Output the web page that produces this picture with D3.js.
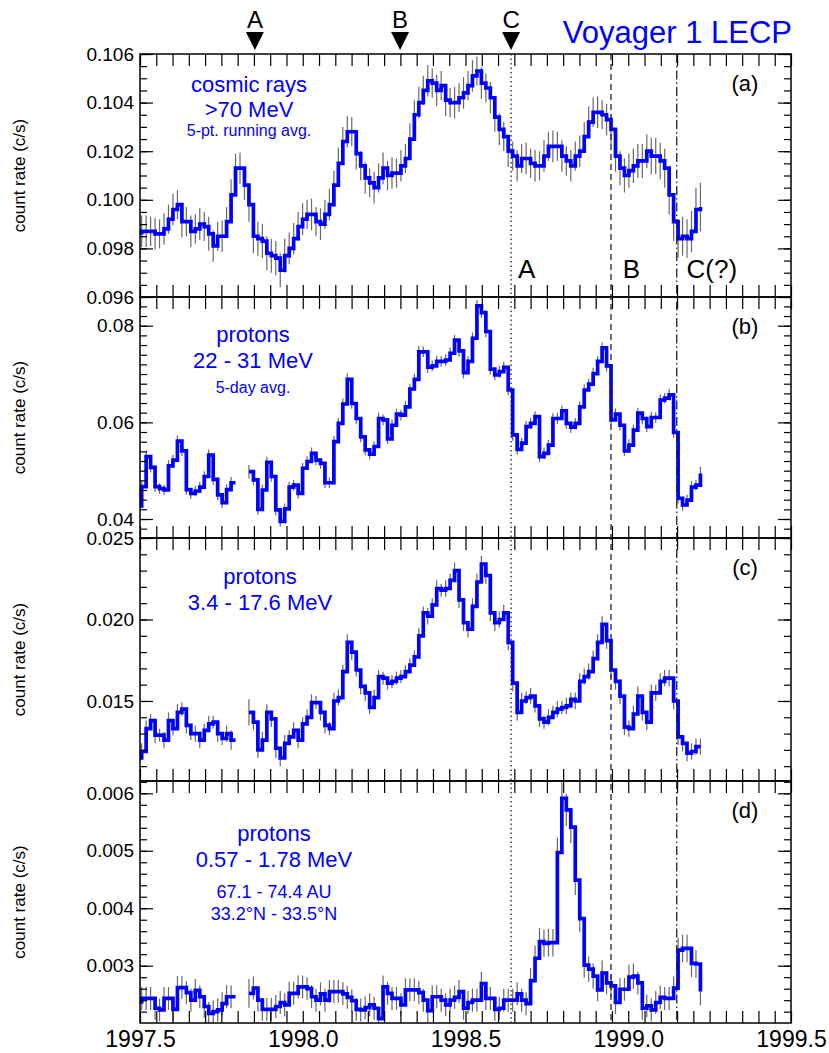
<!DOCTYPE html>
<html>
<head>
<meta charset="utf-8">
<script src="https://cdn.jsdelivr.net/npm/d3@7"></script>
<style>
  body { margin: 0; background: #fff; }
  svg text { font-family: "Liberation Sans", Arial, Helvetica, sans-serif; }
</style>
</head>
<body>
<svg id="chart" width="829" height="1053"></svg>
<script>
// 5-day bins, first one starts just before 1997.5
const startYear = 1997.4914;
const binWidth = 0.013733;

// (a) cosmic rays >70 MeV, 5-pt running avg
const cosmicRays = [
  0.09865, 0.0987, 0.0987, 0.0987, 0.0986, 0.0986, 0.0988, 0.0992, 0.0996, 0.0998,
  0.0991, 0.0991, 0.0987, 0.0988, 0.0990, 0.0989, 0.0986, 0.0981, 0.0985, 0.0985,
  0.0991, 0.1002, 0.1013, 0.1013, 0.1006, 0.0998, 0.0985, 0.0984, 0.0983, 0.0978,
  0.0977, 0.0976, 0.0971, 0.0977, 0.0980, 0.0984, 0.0989, 0.0992, 0.0994, 0.0994,
  0.0991, 0.0990, 0.0994, 0.0998, 0.1006, 0.1015, 0.1024, 0.1028, 0.1028, 0.1019,
  0.1014, 0.1009, 0.1007, 0.1005, 0.1009, 0.1013, 0.1010, 0.1011, 0.1011, 0.1014,
  0.1017, 0.1025, 0.1035, 0.1040, 0.1045, 0.1049, 0.1048, 0.1045, 0.1047, 0.1041,
  0.1040, 0.1040, 0.1042, 0.1044, 0.1047, 0.1051, 0.1053, 0.1048, 0.1046, 0.1042,
  0.1034, 0.1029, 0.1026, 0.1020, 0.1018, 0.1014, 0.1017, 0.1017, 0.1015, 0.1014,
  0.1014, 0.1018, 0.1022, 0.1022, 0.1022, 0.1018, 0.1016, 0.1014, 0.1018, 0.1020,
  0.1026, 0.1032, 0.1036, 0.1036, 0.1035, 0.1033, 0.1029, 0.1018, 0.1013, 0.1010,
  0.1012, 0.1014, 0.1016, 0.1016, 0.1020, 0.1018, 0.1018, 0.1016, 0.1013, 0.1002,
  0.0991, 0.0984, 0.0985, 0.0984, 0.0987, 0.0996, 0.0997
];
const cosmicRaysErr = [
  0.00065, 0.00065, 0.00065, 0.0006, 0.00065, 0.0006, 0.00065, 0.0006, 0.00065, 0.0006,
  0.00065, 0.0006, 0.00065, 0.0006, 0.00065, 0.0006, 0.0007, 0.00065, 0.0006, 0.00065,
  0.0006, 0.00065, 0.0006, 0.00065, 0.0006, 0.0007, 0.0007, 0.0007, 0.0007, 0.0007,
  0.0007, 0.0007, 0.0007, 0.0007, 0.00065, 0.00065, 0.0006, 0.00065, 0.0006, 0.00065,
  0.0006, 0.00065, 0.0006, 0.00065, 0.0006, 0.00065, 0.0006, 0.00065, 0.0006, 0.00065,
  0.0006, 0.00065, 0.0006, 0.00065, 0.0006, 0.00065, 0.0006, 0.00065, 0.0006, 0.00065,
  0.0006, 0.00065, 0.0006, 0.00065, 0.0006, 0.00065, 0.0006, 0.00065, 0.0006, 0.00065,
  0.0006, 0.00065, 0.0006, 0.00065, 0.0006, 0.00065, 0.0006, 0.00065, 0.0006, 0.00065,
  0.0006, 0.00065, 0.0006, 0.00065, 0.0006, 0.00065, 0.0006, 0.00065, 0.0006, 0.00065,
  0.0006, 0.00065, 0.0006, 0.00065, 0.0006, 0.00065, 0.0006, 0.00065, 0.0006, 0.00065,
  0.0006, 0.00065, 0.0006, 0.00065, 0.0006, 0.00065, 0.0006, 0.00065, 0.0007, 0.0007,
  0.0007, 0.0007, 0.0007, 0.0007, 0.0007, 0.00075, 0.00075, 0.00075, 0.0008, 0.0008,
  0.0008, 0.0008, 0.0008, 0.0008, 0.00085, 0.0009, 0.001
];

// (b) protons 22 - 31 MeV, 5-day avg
const protonsHigh = [
  0.0427, 0.0467, 0.0529, 0.0507, 0.0467, 0.0463, 0.0460, 0.0510, 0.0522, 0.0561,
  0.0541, 0.0461, 0.0453, 0.0458, 0.0466, 0.0488, 0.0532, 0.0482, 0.0450, 0.0434,
  0.0461, 0.0475, null, null, null, 0.0498, 0.0481, 0.0420, 0.0460, 0.0517,
  0.0488, 0.0419, 0.0395, 0.0421, 0.0466, 0.0470, 0.0453, 0.0505, 0.0519, 0.0536,
  0.0522, 0.0515, 0.0475, 0.0475, 0.0560, 0.0598, 0.0638, 0.0689, 0.0639, 0.0608,
  0.0570, 0.0543, 0.0534, 0.0550, 0.0608, 0.0605, 0.0566, 0.0594, 0.0617, 0.0615,
  0.0632, 0.0669, 0.0689, 0.0746, 0.0746, 0.0714, 0.0717, 0.0726, 0.0726, 0.0729,
  0.0743, 0.0770, 0.0748, 0.0703, 0.0726, 0.0774, 0.0841, 0.0827, 0.0788, 0.0710,
  0.0698, 0.0705, 0.0714, 0.0667, 0.0574, 0.0544, 0.0557, 0.0591, 0.0598, 0.0612,
  0.0529, 0.0536, 0.0553, 0.0608, 0.0608, 0.0624, 0.0598, 0.0590, 0.0598, 0.0632,
  0.0667, 0.0679, 0.0701, 0.0726, 0.0754, 0.0717, 0.0605, 0.0617, 0.0594, 0.0541,
  0.0553, 0.0584, 0.0619, 0.0608, 0.0591, 0.0610, 0.0610, 0.0646, 0.0650, 0.0657,
  0.0579, 0.0443, 0.0429, 0.0439, 0.0466, 0.0470, 0.0494
];
const protonsHighErr = [
  0.0011, 0.0011, 0.0012, 0.0011, 0.0011, 0.0011, 0.0011, 0.0012, 0.0011, 0.0012,
  0.0011, 0.0011, 0.0011, 0.0011, 0.0011, 0.0011, 0.0012, 0.0011, 0.0011, 0.0011,
  0.0011, 0.0012, null, null, null, 0.0014, 0.0011, 0.0011, 0.0011, 0.0012,
  0.0011, 0.0011, 0.0011, 0.0011, 0.0011, 0.0011, 0.0011, 0.0011, 0.0011, 0.0012,
  0.0011, 0.0011, 0.0011, 0.0011, 0.0012, 0.0011, 0.0012, 0.0012, 0.0011, 0.0012,
  0.0011, 0.0011, 0.0011, 0.0011, 0.0012, 0.0011, 0.0011, 0.0012, 0.0011, 0.0011,
  0.0012, 0.0011, 0.0012, 0.0012, 0.0011, 0.0012, 0.0011, 0.0012, 0.0011, 0.0012,
  0.0012, 0.0011, 0.0012, 0.0012, 0.0011, 0.0012, 0.0012, 0.0011, 0.0012, 0.0011,
  0.0011, 0.0012, 0.0011, 0.0011, 0.0012, 0.0011, 0.0011, 0.0012, 0.0011, 0.0011,
  0.0011, 0.0012, 0.0011, 0.0011, 0.0012, 0.0011, 0.0011, 0.0012, 0.0011, 0.0011,
  0.0012, 0.0011, 0.0012, 0.0011, 0.0012, 0.0012, 0.0011, 0.0012, 0.0011, 0.0011,
  0.0012, 0.0011, 0.0011, 0.0012, 0.0011, 0.0012, 0.0011, 0.0012, 0.0011, 0.0012,
  0.0011, 0.0011, 0.0012, 0.0011, 0.0012, 0.0011, 0.0014
];

// (c) protons 3.4 - 17.6 MeV
const protonsMid = [
  0.0115, 0.0119, 0.0133, 0.0138, 0.0129, 0.0129, 0.0126, 0.0138, 0.0133, 0.0143,
  0.0145, 0.0135, 0.0130, 0.0130, 0.0126, 0.0132, 0.0136, 0.0137, 0.0130, 0.0127,
  0.0130, 0.0126, null, null, null, 0.0143, 0.0137, 0.0120, 0.0126, 0.0143,
  0.0139, 0.0121, 0.0115, 0.0124, 0.0128, 0.0132, 0.0126, 0.0136, 0.0140, 0.0149,
  0.0149, 0.0143, 0.0135, 0.0133, 0.0150, 0.0152, 0.0168, 0.0186, 0.0180, 0.0169,
  0.0159, 0.0155, 0.0146, 0.0152, 0.0165, 0.0164, 0.0161, 0.0162, 0.0164, 0.0165,
  0.0168, 0.0172, 0.0177, 0.0190, 0.0204, 0.0202, 0.0209, 0.0219, 0.0218, 0.0219,
  0.0224, 0.0230, 0.0212, 0.0198, 0.0194, 0.0208, 0.0223, 0.0234, 0.0227, 0.0204,
  0.0198, 0.0200, 0.0204, 0.0186, 0.0161, 0.0143, 0.0150, 0.0152, 0.0153, 0.0147,
  0.0139, 0.0137, 0.0140, 0.0143, 0.0145, 0.0146, 0.0147, 0.0151, 0.0150, 0.0162,
  0.0165, 0.0168, 0.0176, 0.0186, 0.0197, 0.0187, 0.0169, 0.0162, 0.0153, 0.0134,
  0.0133, 0.0142, 0.0153, 0.0143, 0.0137, 0.0155, 0.0155, 0.0162, 0.0164, 0.0164,
  0.0150, 0.0128, 0.0124, 0.0118, 0.0119, 0.0122, 0.0122
];
const protonsMidErr = [
  0.0005, 0.0005, 0.0005, 0.0004, 0.0005, 0.0004, 0.0005, 0.0005, 0.0004, 0.0005,
  0.0004, 0.0005, 0.0004, 0.0005, 0.0005, 0.0004, 0.0005, 0.0004, 0.0005, 0.0004,
  0.0005, 0.0006, null, null, null, 0.0008, 0.0005, 0.0005, 0.0005, 0.0005,
  0.0005, 0.0006, 0.0005, 0.0005, 0.0004, 0.0005, 0.0005, 0.0004, 0.0005, 0.0005,
  0.0004, 0.0005, 0.0005, 0.0004, 0.0005, 0.0005, 0.0004, 0.0005, 0.0005, 0.0004,
  0.0005, 0.0005, 0.0004, 0.0005, 0.0004, 0.0004, 0.0004, 0.0004, 0.0004, 0.0004,
  0.0004, 0.0004, 0.0004, 0.0005, 0.0004, 0.0005, 0.0004, 0.0005, 0.0004, 0.0005,
  0.0004, 0.0005, 0.0005, 0.0005, 0.0005, 0.0005, 0.0005, 0.0005, 0.0005, 0.0005,
  0.0005, 0.0005, 0.0005, 0.0005, 0.0005, 0.0005, 0.0005, 0.0004, 0.0005, 0.0004,
  0.0005, 0.0004, 0.0005, 0.0004, 0.0005, 0.0004, 0.0005, 0.0004, 0.0005, 0.0005,
  0.0005, 0.0005, 0.0005, 0.0005, 0.0005, 0.0005, 0.0005, 0.0005, 0.0005, 0.0005,
  0.0005, 0.0005, 0.0006, 0.0005, 0.0005, 0.0005, 0.0005, 0.0005, 0.0005, 0.0005,
  0.0005, 0.0005, 0.0005, 0.0005, 0.0005, 0.0005, 0.0005
];

// (d) protons 0.57 - 1.78 MeV
const protonsLow = [
  0.00237, 0.00243, 0.00243, 0.00243, 0.00226, 0.00223, 0.00243, 0.00243, 0.00224, 0.00262,
  0.00262, 0.00253, 0.00240, 0.00257, 0.00246, 0.00229, 0.00217, 0.00220, 0.00223, 0.00234,
  0.00246, 0.00246, null, null, null, 0.00252, 0.00261, 0.00240, 0.00224, 0.00224,
  0.00224, 0.00229, 0.00236, 0.00232, 0.00252, 0.00252, 0.00263, 0.00263, 0.00260, 0.00246,
  0.00240, 0.00251, 0.00240, 0.00255, 0.00255, 0.00255, 0.00251, 0.00245, 0.00239, 0.00224,
  0.00223, 0.00227, 0.00232, 0.00226, 0.00208, 0.00263, 0.00252, 0.00243, 0.00243, 0.00232,
  0.00258, 0.00258, 0.00258, 0.00253, 0.00240, 0.00222, 0.00246, 0.00246, 0.00240, 0.00232,
  0.00240, 0.00245, 0.00255, 0.00226, 0.00236, 0.00240, 0.00240, 0.00269, 0.00243, 0.00243,
  0.00224, 0.00226, 0.00240, 0.00240, 0.00240, 0.00251, 0.00240, 0.00234, 0.00274, 0.00313,
  0.00342, 0.00339, 0.00340, 0.00340, 0.00497, 0.00591, 0.00571, 0.00541, 0.00449, 0.00382,
  0.00301, 0.00294, 0.00282, 0.00258, 0.00287, 0.00270, 0.00265, 0.00236, 0.00259, 0.00259,
  0.00280, 0.00282, 0.00270, 0.00226, 0.00230, 0.00223, 0.00236, 0.00245, 0.00243, 0.00243,
  0.00261, 0.00327, 0.00330, 0.00330, 0.00304, 0.00303, 0.00255
];
const protonsLowErr = [
  0.0002, 0.0002, 0.0002, 0.0002, 0.0002, 0.0002, 0.0002, 0.0002, 0.0002, 0.0002,
  0.0002, 0.0002, 0.0002, 0.0002, 0.0002, 0.0002, 0.0002, 0.0002, 0.0002, 0.0002,
  0.0002, 0.0002, null, null, null, 0.00025, 0.0002, 0.0002, 0.0002, 0.0002,
  0.0002, 0.0002, 0.0002, 0.0002, 0.0002, 0.0002, 0.0002, 0.0002, 0.0002, 0.0002,
  0.0002, 0.0002, 0.0002, 0.0002, 0.0002, 0.0002, 0.0002, 0.0002, 0.0002, 0.0002,
  0.0002, 0.0002, 0.0002, 0.0002, 0.0002, 0.0002, 0.0002, 0.0002, 0.0002, 0.0002,
  0.0002, 0.0002, 0.0002, 0.0002, 0.0002, 0.0002, 0.0002, 0.0002, 0.0002, 0.0002,
  0.0002, 0.0002, 0.0002, 0.0002, 0.0002, 0.0002, 0.0002, 0.0002, 0.0002, 0.0002,
  0.0002, 0.0002, 0.0002, 0.0002, 0.0002, 0.0002, 0.0002, 0.0002, 0.00022, 0.00022,
  0.00024, 0.00024, 0.00024, 0.00024, 0.00026, 0.00028, 0.00028, 0.00028, 0.00026, 0.00024,
  0.00022, 0.00022, 0.00022, 0.0002, 0.00022, 0.0002, 0.0002, 0.0002, 0.0002, 0.0002,
  0.00022, 0.00022, 0.0002, 0.0002, 0.0002, 0.0002, 0.0002, 0.0002, 0.0002, 0.0002,
  0.0002, 0.00022, 0.00024, 0.00024, 0.00024, 0.00024, 0.00024
];

// axis labels
const ticksA = [0.096, 0.098, 0.100, 0.102, 0.104, 0.106];
const ticksB = [0.04, 0.06, 0.08];
const ticksC = [0.015, 0.020, 0.025];
const ticksD = [0.003, 0.004, 0.005, 0.006];
const yearLabels = [1997.5, 1998.0, 1998.5, 1999.0, 1999.5];

// boundary events
const eventYears = [1998.640, 1998.947, 1999.149];
const markerLetters = ['A', 'B', 'C'];
const markerYears = [1997.853, 1998.299, 1998.640];
const crossingLabels = ['A', 'B', 'C(?)'];
const crossingYears = [1998.661, 1998.983, 1999.179];

const blue = '#0000ff';
const left = 140, right = 791;
const svg = d3.select('#chart');
const x = d3.scaleLinear().domain([1997.5, 1999.5]).range([left, right]);

// minor x ticks every 0.05 yr
const xTicks = [];
for (let n = 0; n <= 40; n++) xTicks.push(1997.5 + n * 0.05);

function stepTicks(lo, hi, step) {
  const out = [];
  for (let n = Math.ceil(lo / step - 1e-6); n * step <= hi + 1e-9; n++) out.push(n * step);
  return out;
}

const panels = [
  {key: 'a', top: 54, bottom: 297, domain: [0.096, 0.106], minor: 0.0005, labels: ticksA, fmt: '.3f',
    values: cosmicRays, errors: cosmicRaysErr, tag: '(a)',
    text: [{t: 'cosmic rays', y: 92, s: 22}, {t: '>70 MeV', y: 117, s: 22}, {t: '5-pt. running avg.', y: 136, s: 16}], cx: 249},
  {key: 'b', top: 297, bottom: 538, domain: [0.03607, 0.08594], minor: 0.002, labels: ticksB, fmt: '.2f',
    values: protonsHigh, errors: protonsHighErr, tag: '(b)',
    text: [{t: 'protons', y: 342, s: 22}, {t: '22 - 31 MeV', y: 368, s: 22}, {t: '5-day avg.', y: 393, s: 16}], cx: 253},
  {key: 'c', top: 538, bottom: 781, domain: [0.01009, 0.025], minor: 0.001, labels: ticksC, fmt: '.3f',
    values: protonsMid, errors: protonsMidErr, tag: '(c)',
    text: [{t: 'protons', y: 584, s: 22}, {t: '3.4 - 17.6 MeV', y: 610, s: 22}], cx: 260},
  {key: 'd', top: 781, bottom: 1023, domain: [0.002003, 0.006214], minor: 0.0002, labels: ticksD, fmt: '.3f',
    values: protonsLow, errors: protonsLowErr, tag: '(d)',
    text: [{t: 'protons', y: 841, s: 22}, {t: '0.57 - 1.78 MeV', y: 867, s: 22},
           {t: '67.1 - 74.4 AU', y: 898, s: 18}, {t: '33.2°N - 33.5°N', y: 920, s: 18}], cx: 274},
];

const defs = svg.append('defs');

panels.forEach((p, i) => {
  const y = d3.scaleLinear().domain(p.domain).range([p.bottom, p.top]);
  const g = svg.append('g').attr('class', 'panel-' + p.key);

  defs.append('clipPath').attr('id', 'clip-' + p.key)
    .append('rect')
    .attr('x', left).attr('y', p.top)
    .attr('width', right - left).attr('height', p.bottom - p.top);

  const pts = p.values.map((v, k) => ({t: startYear + k * binWidth, v: v, e: p.errors[k]}));

  // error bars at each point
  g.append('g').attr('clip-path', `url(#clip-${p.key})`)
    .selectAll('line')
    .data(pts.filter(d => d.v != null))
    .join('line')
    .attr('x1', d => x(d.t)).attr('x2', d => x(d.t))
    .attr('y1', d => y(d.v - d.e)).attr('y2', d => y(d.v + d.e))
    .attr('stroke', '#686868')
    .attr('stroke-width', 1.2);

  // step line, run carried to the start of a gap
  const stepPts = [];
  pts.forEach((d, k) => {
    stepPts.push(d);
    const next = pts[k + 1];
    if (d.v != null && next && next.v == null) stepPts.push({t: next.t, v: d.v});
  });
  const line = d3.line()
    .defined(d => d.v != null)
    .x(d => x(d.t))
    .y(d => y(d.v))
    .curve(d3.curveStepAfter);
  g.append('path')
    .attr('clip-path', `url(#clip-${p.key})`)
    .attr('d', line(stepPts))
    .attr('fill', 'none')
    .attr('stroke', blue)
    .attr('stroke-width', 3.7);

  // y ticks, inside, both sides
  const minorTicks = stepTicks(p.domain[0], p.domain[1], p.minor);
  const tickStyle = sel => {
    sel.select('.domain').remove();
    sel.selectAll('line').attr('stroke', '#000').attr('stroke-width', 1.2);
  };
  g.append('g').attr('transform', `translate(${left},0)`)
    .call(d3.axisLeft(y).tickValues(minorTicks).tickSize(-7).tickSizeOuter(0).tickFormat(''))
    .call(tickStyle);
  g.append('g').attr('transform', `translate(${right},0)`)
    .call(d3.axisRight(y).tickValues(minorTicks).tickSize(-7).tickSizeOuter(0).tickFormat(''))
    .call(tickStyle);
  g.append('g').attr('transform', `translate(${right},0)`)
    .call(d3.axisRight(y).tickValues(p.labels).tickSize(-13).tickSizeOuter(0).tickFormat(''))
    .call(tickStyle);
  g.append('g').attr('transform', `translate(${left},0)`)
    .call(d3.axisLeft(y).tickValues(p.labels).tickSize(-13).tickSizeOuter(0).tickPadding(6)
      .tickFormat(d3.format(p.fmt)))
    .call(tickStyle)
    .call(s => s.selectAll('text').attr('font-size', 19).attr('fill', '#000')
      .attr('font-family', '"Liberation Sans", Arial, sans-serif'));

  // x ticks, inside, top and bottom
  g.append('g').attr('transform', `translate(0,${p.top})`)
    .call(d3.axisTop(x).tickValues(xTicks).tickSize(-12).tickSizeOuter(0).tickFormat(''))
    .call(tickStyle);
  const bottomAxis = g.append('g').attr('transform', `translate(0,${p.bottom})`);
  if (i === panels.length - 1) {
    bottomAxis.call(d3.axisBottom(x).tickValues(xTicks).tickSize(-12).tickSizeOuter(0).tickPadding(8)
        .tickFormat(d => yearLabels.some(v => Math.abs(v - d) < 1e-6) ? d3.format('.1f')(d) : ''))
      .call(tickStyle)
      .call(s => s.selectAll('text').attr('font-size', 23).attr('fill', '#000')
        .attr('font-family', '"Liberation Sans", Arial, sans-serif'));
  } else {
    bottomAxis.call(d3.axisBottom(x).tickValues(xTicks).tickSize(-12).tickSizeOuter(0).tickFormat(''))
      .call(tickStyle);
  }

  // frame
  g.append('rect')
    .attr('x', left).attr('y', p.top)
    .attr('width', right - left).attr('height', p.bottom - p.top)
    .attr('fill', 'none').attr('stroke', '#000').attr('stroke-width', 1.5);

  // y title
  g.append('text')
    .attr('transform', `translate(25,${(p.top + p.bottom) / 2}) rotate(-90)`)
    .attr('text-anchor', 'middle')
    .attr('font-size', 17)
    .attr('fill', '#000')
    .text('count rate (c/s)');

  // panel description in blue
  g.selectAll('.desc')
    .data(p.text)
    .join('text')
    .attr('class', 'desc')
    .attr('x', p.cx).attr('y', d => d.y)
    .attr('text-anchor', 'middle')
    .attr('font-size', d => d.s)
    .attr('fill', blue)
    .text(d => d.t);

  g.append('text')
    .attr('x', 745).attr('y', p.top + 37)
    .attr('text-anchor', 'middle')
    .attr('font-size', 22)
    .attr('fill', '#000')
    .text(p.tag);
});

// boundary crossing lines through all panels
const eventDash = ['1.5,3', '6,4', '9,3,1.5,3'];
svg.append('g').selectAll('line')
  .data(eventYears)
  .join('line')
  .attr('x1', d => x(d)).attr('x2', d => x(d))
  .attr('y1', 54).attr('y2', 1023)
  .attr('stroke', '#222')
  .attr('stroke-width', 1.3)
  .attr('stroke-dasharray', (d, i) => eventDash[i]);

// labels under the crossings in panel (a)
svg.append('g').selectAll('text')
  .data(crossingLabels)
  .join('text')
  .attr('x', (d, i) => x(crossingYears[i]))
  .attr('y', 278)
  .attr('font-size', 26)
  .attr('fill', '#000')
  .text(d => d);

// markers at the top
const markers = svg.append('g').selectAll('g')
  .data(markerLetters)
  .join('g')
  .attr('transform', (d, i) => `translate(${x(markerYears[i])},0)`);
markers.append('path')
  .attr('d', 'M-9,32 L9,32 L0,50 Z')
  .attr('fill', '#000');
markers.append('text')
  .attr('y', 28)
  .attr('text-anchor', 'middle')
  .attr('font-size', 24)
  .attr('fill', '#000')
  .text(d => d);

svg.append('text')
  .attr('x', 792).attr('y', 43)
  .attr('text-anchor', 'end')
  .attr('font-size', 31)
  .attr('fill', blue)
  .text('Voyager 1 LECP');
</script>
</body>
</html>
